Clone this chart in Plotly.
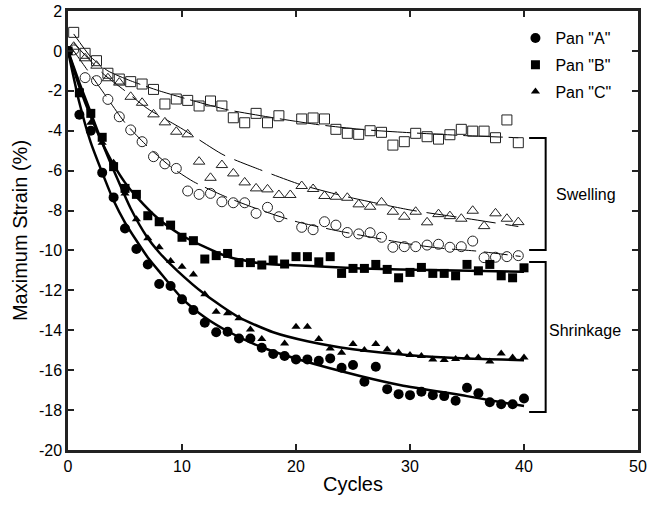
import plotly.graph_objects as go

# ---------------- data ----------------
cyc = list(range(41))
cyc_open = [c + 0.5 for c in range(40)]

# filled markers (integer cycles 0..40)
pan_a = [0, -3.2, -4.0, -6.1, -7.34, -8.9, -9.93, -10.7, -11.68, -11.78, -12.45,
         -12.99, -13.62, -14.1, -14.07, -14.41, -14.41, -14.88, -15.19, -15.29, -15.46,
         -15.46, -15.53, -15.41, -15.88, -15.74, -16.58, -15.83, -16.95, -17.2, -17.25,
         -17.08, -17.25, -17.3, -17.53, -16.88, -17.16, -17.61, -17.71, -17.71, -17.42]
pan_b = [0, -2.1, -3.13, -4.33, -5.8, -6.89, -7.19, -8.26, -8.56, -8.73, -9.34,
         -9.51, -10.43, -10.26, -10.15, -10.61, -10.61, -10.73, -10.48, -10.68, -10.31,
         -10.31, -10.57, -10.31, -11.15, -10.9, -10.9, -10.7, -10.95, -11.37, -11.1,
         -10.85, -11.15, -11.15, -11.27, -10.7, -11.02, -10.7, -11.27, -11.37, -10.87]
pan_c = [0, -2.0, -3.6, -4.6, -5.6, -7.14, -8.44, -9.39, -9.84, -10.53, -10.82,
         -11.2, -12.19, -13.07, -13.15, -13.4, -13.96, -14.44, None, -14.66, -13.82,
         -13.82, -14.44, -14.91, -15.13, -14.69, -14.99, -14.69, -14.96, -15.11, -15.24,
         -15.29, -15.46, -15.49, -15.44, -15.36, -15.36, -15.56, -15.16, -15.36, -15.36]

# open markers (cycles n + 0.5)
sw_sq = [0.93, -0.12, -0.49, -1.12, -1.41, -1.54, -1.66, -1.93, -2.66, -2.41,
         -2.48, -2.76, -2.51, -2.76, -3.35, -3.6, -3.13, -3.6, -3.25, None,
         -3.41, -3.36, -3.41, -3.93, -4.13, -4.18, -4.0, -4.08, -4.72, -4.55,
         -4.13, -4.3, -4.42, -4.2, -3.93, -4.02, -4.02, -4.35, -3.46, -4.6]
sw_tri = [0.21, -0.37, -0.74, -1.37, -1.59, -2.3, -2.6, -3.18, -3.58, -4.05,
          -4.18, -5.55, -6.36, -5.72, -6.14, -6.59, -6.89, -6.94, -7.22, -7.22,
          -6.77, -6.92, -7.27, -7.31, -7.36, -7.69, -7.81, -7.59, -8.06, -8.31,
          -8.06, -8.59, -8.18, -8.28, -8.41, -8.01, -8.78, -8.14, -8.41, -8.58]
sw_cir = [0.05, -1.34, -1.49, -2.43, -3.3, -3.96, -4.55, -5.3, -5.66, -5.89,
          -7.02, -7.19, -7.14, -7.56, -7.61, -7.61, -8.14, -7.84, -8.31, None,
          -8.84, -8.96, -8.56, -8.73, -9.1, -9.17, -9.11, -9.34, -9.84, -9.81,
          -9.81, -9.73, -9.69, -9.84, -9.81, -9.53, -10.36, -10.34, -10.31, -10.26]

# fitted trend curves
fit_a_x = [0, 1, 2, 3, 4, 5, 6, 7, 8, 10, 12, 14, 17, 20.4, 25.7, 29.2, 35, 40]
fit_a_y = [0, -2.6, -4.6, -6.1, -7.5, -8.6, -9.5, -10.35, -11.05, -12.4, -13.35,
           -14.05, -14.85, -15.49, -16.3, -16.75, -17.3, -17.8]
fit_b_x = [0, 1, 2, 3, 4, 5, 6, 8, 10, 11.9, 13.95, 16.9, 20.4, 25.7, 29.2, 40]
fit_b_y = [0, -1.8, -3.3, -4.6, -5.7, -6.6, -7.3, -8.45, -9.25, -9.8, -10.3,
           -10.65, -10.75, -10.9, -10.95, -11.07]
fit_c_x = [0, 1, 2, 3, 4.4, 5.5, 6.9, 8, 9.55, 12, 15, 18, 21, 25, 30, 35, 40]
fit_c_y = [0, -1.6, -3.1, -4.6, -6.5, -7.9, -9.3, -10.1, -11.0, -12.2, -13.35,
           -14.1, -14.55, -14.95, -15.25, -15.42, -15.5]
fit_sq_x = [0.5, 2, 3.5, 5.5, 8, 11, 14, 18, 22, 26, 30, 35, 39.5]
fit_sq_y = [0.85, -0.3, -1.0, -1.5, -2.0, -2.5, -2.95, -3.35, -3.7, -3.95, -4.1, -4.25, -4.35]
fit_tri_x = [0.5, 3, 5, 7, 10, 13.6, 16.6, 20.4, 24.4, 30, 35, 39.5]
fit_tri_y = [0.4, -1.1, -2.0, -2.9, -3.9, -5.2, -5.9, -6.7, -7.3, -7.97, -8.4, -8.8]
fit_cir_x = [0.5, 1.5, 3, 5, 7, 9, 11, 14, 17, 20, 23.5, 27.7, 30.1, 32.7, 35.8, 39.7]
fit_cir_y = [0.0, -0.8, -2.0, -3.6, -4.8, -5.8, -6.55, -7.35, -8.0, -8.55, -9.0,
             -9.45, -9.69, -9.89, -10.03, -10.3]

# tick labels
x_ticks = [0, 10, 20, 30, 40, 50]
y_ticks = list(range(-20, 3, 2))
y_tick_text = [str(v) for v in y_ticks]  # hyphen-minus, as in the original

# bracket ranges (x span, y top/bottom)
brk_x = [40.45, 41.9]
swell_y = [-4.37, -9.98]
shrink_y = [-10.58, -18.1]

FONT = "Liberation Sans, Arial, sans-serif"
fig = go.Figure()

def fit_line(x, y, width, dash):
    fig.add_trace(go.Scatter(x=x, y=y, mode="lines", line=dict(color="black", width=width,
                  dash=dash, shape="spline", smoothing=0.6), showlegend=False, hoverinfo="skip"))

fit_line(fit_sq_x, fit_sq_y, 1, "40px,6px")
fit_line(fit_tri_x, fit_tri_y, 1, "30px,10px")
fit_line(fit_cir_x, fit_cir_y, 1, "24px,8px")
fit_line(fit_a_x, fit_a_y, 2.5, "solid")
fit_line(fit_b_x, fit_b_y, 2.5, "solid")
fit_line(fit_c_x, fit_c_y, 2.5, "solid")

def open_pts(y, sym, size):
    fig.add_trace(go.Scatter(x=cyc_open, y=y, mode="markers", showlegend=False,
                  marker=dict(symbol=sym, size=size, color="#222",
                              line=dict(color="#222", width=1))))

open_pts(sw_sq, "square-open", 10)
open_pts(sw_tri, "triangle-up-open", 10)
open_pts(sw_cir, "circle-open", 10)

fig.add_trace(go.Scatter(x=cyc, y=pan_a, mode="markers", name='Pan "A"', legendgroup="a",
              marker=dict(symbol="circle", size=10, color="black")))
fig.add_trace(go.Scatter(x=cyc, y=pan_b, mode="markers", name='Pan "B"', legendgroup="b",
              marker=dict(symbol="square", size=9, color="black")))
fig.add_trace(go.Scatter(x=cyc, y=pan_c, mode="markers", name='Pan "C"', legendgroup="c",
              marker=dict(symbol="triangle-up", size=8, color="black")))

for (y0, y1) in (swell_y, shrink_y):
    fig.add_shape(type="path",
                  path=f"M {brk_x[0]},{y0} L {brk_x[1]},{y0} L {brk_x[1]},{y1} L {brk_x[0]},{y1}",
                  line=dict(color="black", width=2))

fig.add_annotation(x=42.6, y=-7.22, text="Swelling", showarrow=False, xanchor="left",
                   font=dict(family=FONT, size=16, color="black"))
fig.add_annotation(x=42.05, y=-14.0, text="Shrinkage", showarrow=False, xanchor="left",
                   font=dict(family=FONT, size=16, color="black"))

axis_common = dict(showline=True, linecolor="#222", linewidth=2.5, mirror="ticks",
                   ticks="inside", ticklen=6, tickwidth=2, tickcolor="#222",
                   showgrid=False, zeroline=False, automargin=False,
                   tickfont=dict(family=FONT, size=16, color="black"))
fig.update_xaxes(range=[0, 50], tickmode="array", tickvals=x_ticks,
                 ticktext=[str(v) for v in x_ticks],
                 title=dict(text="Cycles", font=dict(family=FONT, size=20, color="black"), standoff=4),
                 **axis_common)
fig.update_yaxes(range=[-20, 2], tickmode="array", tickvals=y_ticks, ticktext=y_tick_text,
                 title=dict(text="Maximum Strain (%)", font=dict(family=FONT, size=20, color="black"), standoff=6),
                 **axis_common)

fig.update_layout(width=648, height=505, margin=dict(l=68, r=10, t=11, b=55),
                  paper_bgcolor="white", plot_bgcolor="white",
                  legend=dict(x=0.785, y=0.977, xanchor="left", yanchor="top",
                              font=dict(family=FONT, size=16, color="black"),
                              bgcolor="rgba(0,0,0,0)", itemwidth=30, tracegroupgap=3),
                  showlegend=True)

fig.write_html("out.html")
